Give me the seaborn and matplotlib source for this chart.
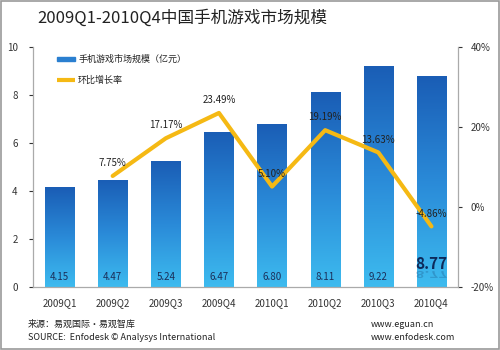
import matplotlib
matplotlib.use("Agg")
import matplotlib.pyplot as plt
import seaborn as sns
import numpy as np
import pandas as pd
from matplotlib.colors import LinearSegmentedColormap
from matplotlib.patches import Rectangle, PathPatch
from matplotlib.textpath import TextPath
from matplotlib.font_manager import FontProperties
from matplotlib.transforms import Affine2D

quarters = ["2009Q1", "2009Q2", "2009Q3", "2009Q4", "2010Q1", "2010Q2", "2010Q3", "2010Q4"]
market_size = [4.15, 4.47, 5.24, 6.47, 6.80, 8.11, 9.22, 8.77]
growth_quarters = ["2009Q2", "2009Q3", "2009Q4", "2010Q1", "2010Q2", "2010Q3", "2010Q4"]
growth = [7.75, 17.17, 23.49, 5.10, 19.19, 13.63, -4.86]
left_ticks = [0, 2, 4, 6, 8, 10]
right_ticks = [-20, 0, 20, 40]

sns.set_theme(style="white")
plt.rcParams['font.family'] = ['Noto Sans CJK SC', 'DejaVu Sans']

fig = plt.figure(figsize=(5, 3.5), dpi=100)
ax = fig.add_axes([0.066, 0.18, 0.85, 0.686])

df = pd.DataFrame({"quarter": quarters, "size": market_size})
sns.barplot(data=df, x="quarter", y="size", ax=ax, width=0.55, color="#2a7fd0",
            saturation=1, legend=False)
ax.set_xlim(-0.5, 7.5)
ax.set_ylim(0, 10)

cmap = LinearSegmentedColormap.from_list("g", ["#3dbbef", "#2a8ad8", "#1a5db5"])
grad = np.linspace(0, 1, 256).reshape(-1, 1)
for p in ax.patches:
    x0, y0 = p.get_x(), p.get_y()
    w, h = p.get_width(), p.get_height()
    im = ax.imshow(grad, extent=[x0, x0 + w, y0, y0 + h], origin="lower",
                   cmap=cmap, aspect="auto", zorder=2)
    im.set_clip_path(p)
    p.set_facecolor("none")
    p.set_edgecolor("none")
ax.set_xlim(-0.5, 7.5)
ax.set_ylim(0, 10)

last = len(market_size) - 1
for i, v in enumerate(market_size):
    if i < last:
        ax.text(i, 0.42, f"{v:.2f}", ha="center", va="center", fontsize=7, color="#1b2f5a", zorder=5)
    else:
        ax.text(i, 0.95, f"{v:.2f}", ha="center", va="center", fontsize=11, fontweight="bold",
                color="#0d2a5a", zorder=5)

# faint mirrored reflection under the last value label
fp = FontProperties(family="Noto Sans CJK SC", weight="bold", size=11)
tp = TextPath((0, 0), f"{market_size[last]:.2f}", prop=fp)
bb = tp.get_extents()
px, py = ax.transData.transform((last, 0.52))
tr = (Affine2D().translate(-(bb.x0 + bb.x1) / 2, -(bb.y0 + bb.y1) / 2)
      .scale(1, -0.6).scale(fig.dpi / 72).translate(px, py))
refl = PathPatch(tr.transform_path(tp), transform=None, facecolor="#0d2a5a", edgecolor="none",
                 alpha=0.22, zorder=5)
fig.add_artist(refl)

ax.set_xlabel("")
ax.set_ylabel("")
ax.set_yticks(left_ticks)
ax.tick_params(axis="y", labelsize=7, colors="#333333", length=3, width=0.8, left=True, pad=8)
ax.tick_params(axis="x", labelsize=7, colors="#333333", length=0, pad=8)
for s in ["top", "right"]:
    ax.spines[s].set_visible(False)
for s in ["left", "bottom"]:
    ax.spines[s].set_color("#aaaaaa")
    ax.spines[s].set_linewidth(0.9)

ax2 = ax.twinx()
pos = [quarters.index(q) for q in growth_quarters]
gdf = pd.DataFrame({"pos": pos, "growth": growth})
sns.lineplot(data=gdf, x="pos", y="growth", ax=ax2, color="#f5b914", linewidth=3, zorder=4)
ax2.set_ylim(-20, 40)
ax2.set_xlim(-0.5, 7.5)
ax2.set_yticks(right_ticks)
ax2.set_yticklabels([f"{t}%" for t in right_ticks])
ax2.set_ylabel("")
ax2.tick_params(axis="y", labelsize=7, colors="#333333", length=3, width=0.8, right=True, pad=6)
for s in ["top", "left", "bottom"]:
    ax2.spines[s].set_visible(False)
ax2.spines["right"].set_color("#aaaaaa")
ax2.spines["right"].set_linewidth(0.9)

for p_, g in zip(pos, growth):
    ax2.text(p_, g + 3.2, f"{g:.2f}%", ha="center", va="center", fontsize=7, color="#222222", zorder=6)

# legend
ax.add_patch(Rectangle((0.056, 0.942), 0.042, 0.016, transform=ax.transAxes,
                       color="#2a7fd0", clip_on=False, zorder=6))
ax.text(0.106, 0.95, "手机游戏市场规模（亿元）", transform=ax.transAxes, fontsize=6.5,
        va="center", ha="left", color="#222222")
ax.plot([0.056, 0.098], [0.8625, 0.8625], transform=ax.transAxes, color="#f5b914", linewidth=3,
        solid_capstyle="butt", zorder=6)
ax.text(0.106, 0.8625, "环比增长率", transform=ax.transAxes, fontsize=6.5, va="center",
        ha="left", color="#222222")

fig.text(0.074, 0.948, "2009Q1-2010Q4中国手机游戏市场规模", fontsize=12, color="#222222",
         ha="left", va="center")
fig.text(0.056, 0.074, "来源：易观国际·易观智库", fontsize=6.5, color="#222222", ha="left", va="center")
fig.text(0.056, 0.036, "SOURCE:  Enfodesk © Analysys International", fontsize=6.5, color="#222222",
         ha="left", va="center")
fig.text(0.742, 0.074, "www.eguan.cn", fontsize=6.5, color="#222222", ha="left", va="center")
fig.text(0.742, 0.036, "www.enfodesk.com", fontsize=6.5, color="#222222", ha="left", va="center")

fig.patches.append(Rectangle((0.002, 0.003), 0.995, 0.994, transform=fig.transFigure,
                             fill=False, edgecolor="#999999", linewidth=1.2))

fig.savefig("out.png", dpi=100)
